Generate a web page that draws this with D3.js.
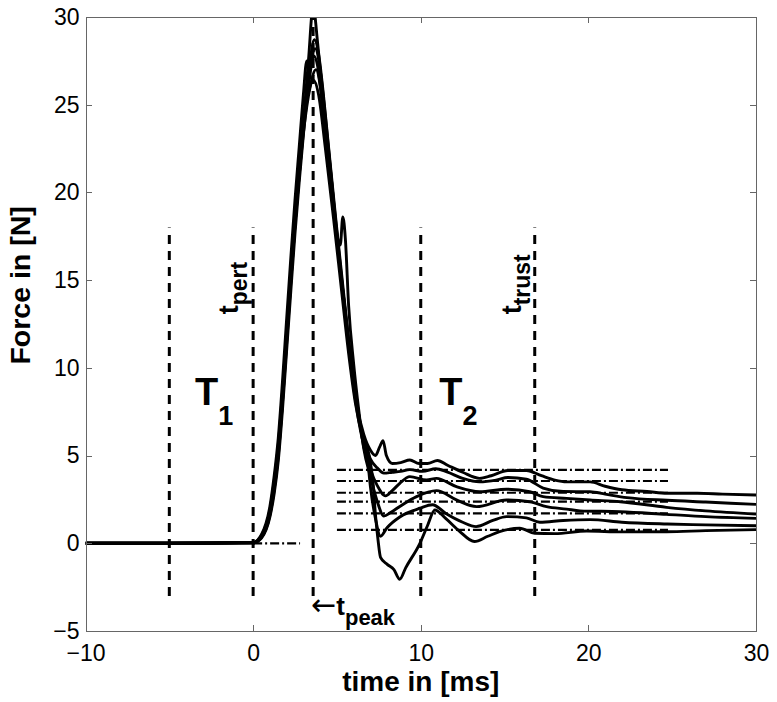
<!DOCTYPE html>
<html>
<head>
<meta charset="utf-8">
<script src="https://d3js.org/d3.v7.min.js"></script>
<style>
  body { margin: 0; background: #fff; }
  svg text { font-family: "Liberation Sans", Arial, sans-serif; fill: #000; }
  .axis text { font-size: 23px; }
  .axis path, .axis line { stroke: #666; stroke-width: 1; shape-rendering: crispEdges; }
  .trial { fill: none; stroke: #000; stroke-width: 2.9; stroke-linejoin: round; }
  .marker { stroke: #000; stroke-width: 3; stroke-dasharray: 9,7; }
  .level { stroke: #000; stroke-width: 2.2; stroke-dasharray: 9,3,2,3; }
  .lbl { font-weight: bold; }
  .arrow { font-family: "DejaVu Sans", sans-serif; font-weight: normal; }
</style>
</head>
<body>
<div id="chart"></div>
<script>
// force traces [time ms, force N]
var trial1 = [[-10,0],[-5,0],[0,0.05],[0.5,0.4],[1,1.8],[1.25,3.3],[1.5,5.3],[1.75,8.3],[2,11.8],[2.25,15.2],[2.5,18.5],[2.75,21.3],[3,24],[3.3,27.5],[3.58,30.6],[3.85,28.5],[4.1,26],[4.4,23.2],[4.9,18.6],[5.4,14],[5.8,10.6],[6.2,7.8],[6.6,6.2],[7.0,5.3],[7.3,5.0],[7.55,5.5],[7.75,5.85],[7.95,5.0],[8.3,4.55],[8.8,4.6],[9.35,4.75],[9.9,4.55],[10.4,4.55],[11.0,4.72],[11.6,4.45],[12.5,4.05],[13.5,3.7],[14.2,3.85],[15.2,4.15],[16.3,4.15],[17.2,3.85],[18.0,3.6],[18.7,3.5],[20.1,3.5],[21.0,3.25],[22.0,3.05],[23.5,2.95],[24.7,2.85],[26.5,2.85],[28,2.8],[30,2.75]];
var trial2 = [[-10,0],[-5,0],[0,0.03],[0.5,0.35],[1,1.6],[1.25,3.0],[1.5,5.0],[1.75,8.0],[2,11.4],[2.25,14.9],[2.5,18.2],[2.75,21.0],[3,23.7],[3.3,26.6],[3.65,28.7],[3.95,27.6],[4.2,25.5],[4.5,22.6],[4.95,18.3],[5.45,13.8],[5.85,10.3],[6.25,7.5],[6.6,5.9],[7.0,4.8],[7.4,4.3],[7.8,4.0],[8.3,4.05],[8.8,4.1],[9.35,4.2],[10.1,4.1],[10.9,4.25],[11.6,4.05],[12.5,3.7],[13.5,3.5],[14.5,3.6],[15.2,3.75],[16.3,3.65],[17.3,3.15],[18.5,2.95],[20.1,2.94],[21.0,2.8],[22.3,2.6],[24.7,2.45],[27,2.35],[30,2.22]];
var trial3 = [[-10,0],[-5,0],[0,0.05],[0.5,0.5],[1,2.1],[1.25,3.8],[1.5,6.0],[1.75,9.2],[2,12.8],[2.25,16.3],[2.5,19.6],[2.75,22.6],[3.0,25.6],[3.2,27.5],[3.4,27.0],[3.6,27.8],[3.85,27.2],[4.15,24.8],[4.5,21.8],[5.0,17.3],[5.4,14.0],[5.8,10.8],[6.2,8.0],[6.6,5.5],[7.0,4.2],[7.4,3.3],[7.9,2.7],[8.3,3.0],[8.75,3.42],[9.35,3.8],[10.35,3.61],[10.94,3.7],[12.13,3.23],[13.52,2.94],[15.12,3.08],[16.5,2.94],[17.3,2.66],[18.7,2.56],[20.1,2.47],[21.9,2.37],[24.66,2.05],[27,1.85],[30,1.67]];
var trial4 = [[-10,0],[-5,0],[0,0.02],[0.5,0.3],[1,1.5],[1.25,2.8],[1.5,4.7],[1.75,7.6],[2,11.0],[2.25,14.4],[2.5,17.7],[2.75,20.6],[3,23.3],[3.35,26.4],[3.7,28.2],[4.0,27.0],[4.3,24.4],[4.65,21.0],[5.0,17.6],[5.2,17.0],[5.35,18.6],[5.5,17.4],[5.7,13.5],[6.0,10.2],[6.3,7.6],[6.6,5.4],[7.0,3.8],[7.4,2.4],[7.8,1.55],[8.2,1.75],[8.75,2.1],[9.75,2.66],[10.94,3.0],[12.13,2.47],[13.33,2.09],[15.12,2.47],[16.5,2.37],[17.5,2.09],[18.7,1.95],[19.5,1.85],[21.9,1.8],[24.66,1.65],[27,1.52],[30,1.42]];
var trial5 = [[-10,0],[-5,0],[0,0.03],[0.5,0.35],[1,1.7],[1.25,3.1],[1.5,5.1],[1.75,8.1],[2,11.6],[2.25,15.0],[2.5,18.2],[2.75,21.0],[3,23.4],[3.4,26.0],[3.75,27.0],[4.05,25.8],[4.4,22.8],[4.85,18.8],[5.3,14.6],[5.7,11.2],[6.1,8.2],[6.5,6.0],[6.8,5.0],[7.0,3.2],[7.3,1.4],[7.6,0.4],[8.0,0.9],[8.75,1.5],[9.95,2.0],[10.7,2.2],[11.5,1.7],[12.5,1.2],[13.3,0.95],[14.3,1.3],[15.12,1.52],[16.3,1.45],[17.1,1.2],[18.5,1.3],[20.1,1.35],[22,1.2],[24.7,1.1],[27,1.05],[30,1.0]];
var trial6 = [[-10,0],[-5,0],[0,0.04],[0.5,0.45],[1,1.9],[1.25,3.5],[1.5,5.6],[1.75,8.6],[2,12.1],[2.25,15.5],[2.5,18.8],[2.75,21.6],[3,24.0],[3.35,25.9],[3.6,26.4],[3.9,25.6],[4.3,22.6],[4.8,18.5],[5.3,14.2],[5.7,10.8],[6.1,8.0],[6.5,6.2],[6.9,5.1],[7.15,3.5],[7.3,1.6],[7.45,0.2],[7.6,-0.8],[8.0,-1.2],[8.4,-1.5],[8.75,-2.05],[9.1,-1.4],[9.95,0.0],[10.4,1.0],[10.84,1.9],[11.5,1.4],[12.3,0.7],[13.2,0.1],[14.0,0.4],[14.7,0.66],[15.9,0.86],[16.8,0.57],[18,0.55],[19.9,0.7],[22,0.65],[24.66,0.66],[27,0.72],[30,0.78]];
var trials = [trial1, trial2, trial3, trial4, trial5, trial6];

// vertical markers (ms) and their span (N)
var markerTimes = [-5, 0, 10, 16.8];
var markerSpan = [-3, 18];
var tPeak = 3.58;
var peakSpan = [-3, 30];

// steady state levels (dash-dot) and their time range
var levels = [4.18, 3.55, 2.88, 2.37, 1.71, 0.76];
var levelRange = [5.0, 24.75];
var pertBase = [0, 2.8];

var xTicks = [-10, 0, 10, 20, 30];
var yTicks = [-5, 0, 5, 10, 15, 20, 25, 30];

var W = 777, H = 702;
var margin = {top: 17, right: 21, bottom: 71, left: 85.5};

var svg = d3.select("#chart").append("svg")
    .attr("width", W)
    .attr("height", H);

var x = d3.scaleLinear().domain([-10, 30]).range([margin.left, W - margin.right]);
var y = d3.scaleLinear().domain([-5, 30]).range([H - margin.bottom, margin.top]);

svg.append("clipPath").attr("id", "plotclip")
  .append("rect")
    .attr("x", x(-10)).attr("y", y(30))
    .attr("width", x(30) - x(-10)).attr("height", y(-5) - y(30));

var plot = svg.append("g").attr("clip-path", "url(#plotclip)");

// dash-dot steady state lines
plot.selectAll(".level")
    .data(levels)
    .enter().append("line")
    .attr("class", "level")
    .attr("x1", x(levelRange[0])).attr("x2", x(levelRange[1]))
    .attr("y1", function(d) { return y(d); })
    .attr("y2", function(d) { return y(d); });

plot.append("line")
    .attr("class", "level")
    .attr("x1", x(pertBase[0])).attr("x2", x(pertBase[1]))
    .attr("y1", y(0)).attr("y2", y(0));

// dashed markers
plot.selectAll(".marker")
    .data(markerTimes)
    .enter().append("line")
    .attr("class", "marker")
    .attr("x1", function(d) { return x(d); })
    .attr("x2", function(d) { return x(d); })
    .attr("y1", y(markerSpan[0])).attr("y2", y(markerSpan[1]));

plot.append("line")
    .attr("class", "marker")
    .attr("x1", x(tPeak)).attr("x2", x(tPeak))
    .attr("y1", y(peakSpan[0])).attr("y2", y(peakSpan[1]));

var line = d3.line()
    .x(function(d) { return x(d[0]); })
    .y(function(d) { return y(d[1]); })
    .curve(d3.curveMonotoneX);

plot.selectAll(".trial")
    .data(trials)
    .enter().append("path")
    .attr("class", "trial")
    .attr("d", line);

// axes, ticks pointing inward
svg.append("g").attr("class", "axis")
    .attr("transform", "translate(0," + y(-5) + ")")
    .call(d3.axisBottom(x).tickValues(xTicks).tickSizeInner(-6).tickSizeOuter(0).tickPadding(14));
svg.append("g").attr("class", "axis")
    .attr("transform", "translate(" + x(-10) + ",0)")
    .call(d3.axisLeft(y).tickValues(yTicks).tickSizeInner(-6).tickSizeOuter(0).tickPadding(6));
svg.append("g").attr("class", "axis")
    .attr("transform", "translate(0," + y(30) + ")")
    .call(d3.axisTop(x).tickValues(xTicks).tickSizeInner(-6).tickSizeOuter(0).tickFormat(""));
svg.append("g").attr("class", "axis")
    .attr("transform", "translate(" + x(30) + ",0)")
    .call(d3.axisRight(y).tickValues(yTicks).tickSizeInner(-6).tickSizeOuter(0).tickFormat(""));

// axis labels
svg.append("text").attr("class", "lbl")
    .attr("x", (x(-10) + x(30)) / 2).attr("y", 691)
    .attr("text-anchor", "middle")
    .style("font-size", "28px")
    .text("time in [ms]");

svg.append("text").attr("class", "lbl")
    .attr("transform", "translate(30," + y(14.7) + ") rotate(-90)")
    .attr("text-anchor", "middle")
    .style("font-size", "28.5px")
    .text("Force in [N]");

// text with subscript
function subText(px, py, main, sub, mainSize, subSize, drop, rot) {
    var t = svg.append("text").attr("class", "lbl")
        .attr("transform", "translate(" + px + "," + py + ")" + (rot ? " rotate(-90)" : ""));
    t.append("tspan").style("font-size", mainSize + "px").text(main);
    t.append("tspan").attr("dy", drop).style("font-size", subSize + "px").text(sub);
    return t;
}

subText(x(-3.47), y(7.88), "T", "1", 38, 27, 20, false);
subText(x(11.1), y(7.88), "T", "2", 38, 27, 20, false);
subText(238, y(13.05), "t", "pert", 27, 23, 9, true);
subText(521, y(13.05), "t", "trust", 27, 23, 9, true);

var peakLbl = svg.append("text").attr("class", "lbl")
    .attr("transform", "translate(" + (x(tPeak) - 2) + ",615)");
peakLbl.append("tspan").attr("class", "arrow").style("font-size", "30px").text("\u2190");
peakLbl.append("tspan").style("font-size", "26px").text("t");
peakLbl.append("tspan").attr("dy", 10).style("font-size", "22px").text("peak");
</script>
</body>
</html>
